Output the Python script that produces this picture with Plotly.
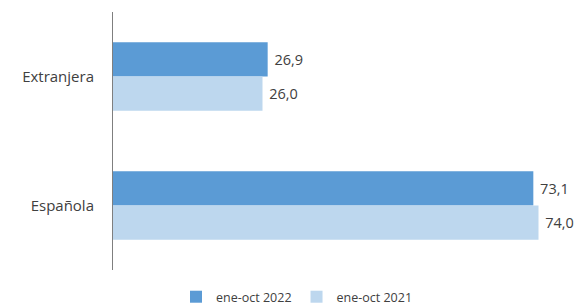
import plotly.graph_objects as go

categories = ["Extranjera", "Española"]
series_names = ["ene-oct 2022", "ene-oct 2021"]
values_2022 = [26.9, 73.1]
values_2021 = [26.0, 74.0]
colors = ["#5B9BD5", "#BDD7EE"]

FONT = "Open Sans, Liberation Sans, sans-serif"

fig = go.Figure()
for name, vals, col in zip(series_names, [values_2022, values_2021], colors):
    fig.add_trace(go.Bar(
        y=categories, x=vals, name=name, orientation="h",
        marker=dict(color=col, line=dict(width=0)),
        texttemplate="\u00a0%{x:.1f}", textposition="outside",
        textfont=dict(family=FONT, size=14.5, color="#404040"),
        cliponaxis=False,
    ))

# page body has an 8px margin, so the figure is sized/offset to compensate
fig.update_layout(
    width=577, height=300,
    margin=dict(l=105, r=12, t=4, b=38, autoexpand=False),
    paper_bgcolor="white", plot_bgcolor="white",
    barmode="group", bargap=0.47, bargroupgap=0,
    separators=",.",
    font=dict(family=FONT, color="#404040"),
    xaxis=dict(range=[0, 80], showgrid=False, showticklabels=False, zeroline=False,
               showline=False, fixedrange=True),
    yaxis=dict(autorange="reversed", showgrid=False, showline=True, linecolor="#7f7f7f",
               linewidth=1, ticks="", ticklen=0, tickfont=dict(family=FONT, size=15, color="#404040"),
               ticklabelstandoff=15, automargin=False),
    legend=dict(orientation="h", x=0.40, xanchor="center", y=-0.105, yanchor="middle",
                font=dict(family=FONT, size=12.5, color="#404040"), itemwidth=30,
                traceorder="normal", tracegroupgap=0),
    showlegend=True,
)

fig.write_html("out.html")
